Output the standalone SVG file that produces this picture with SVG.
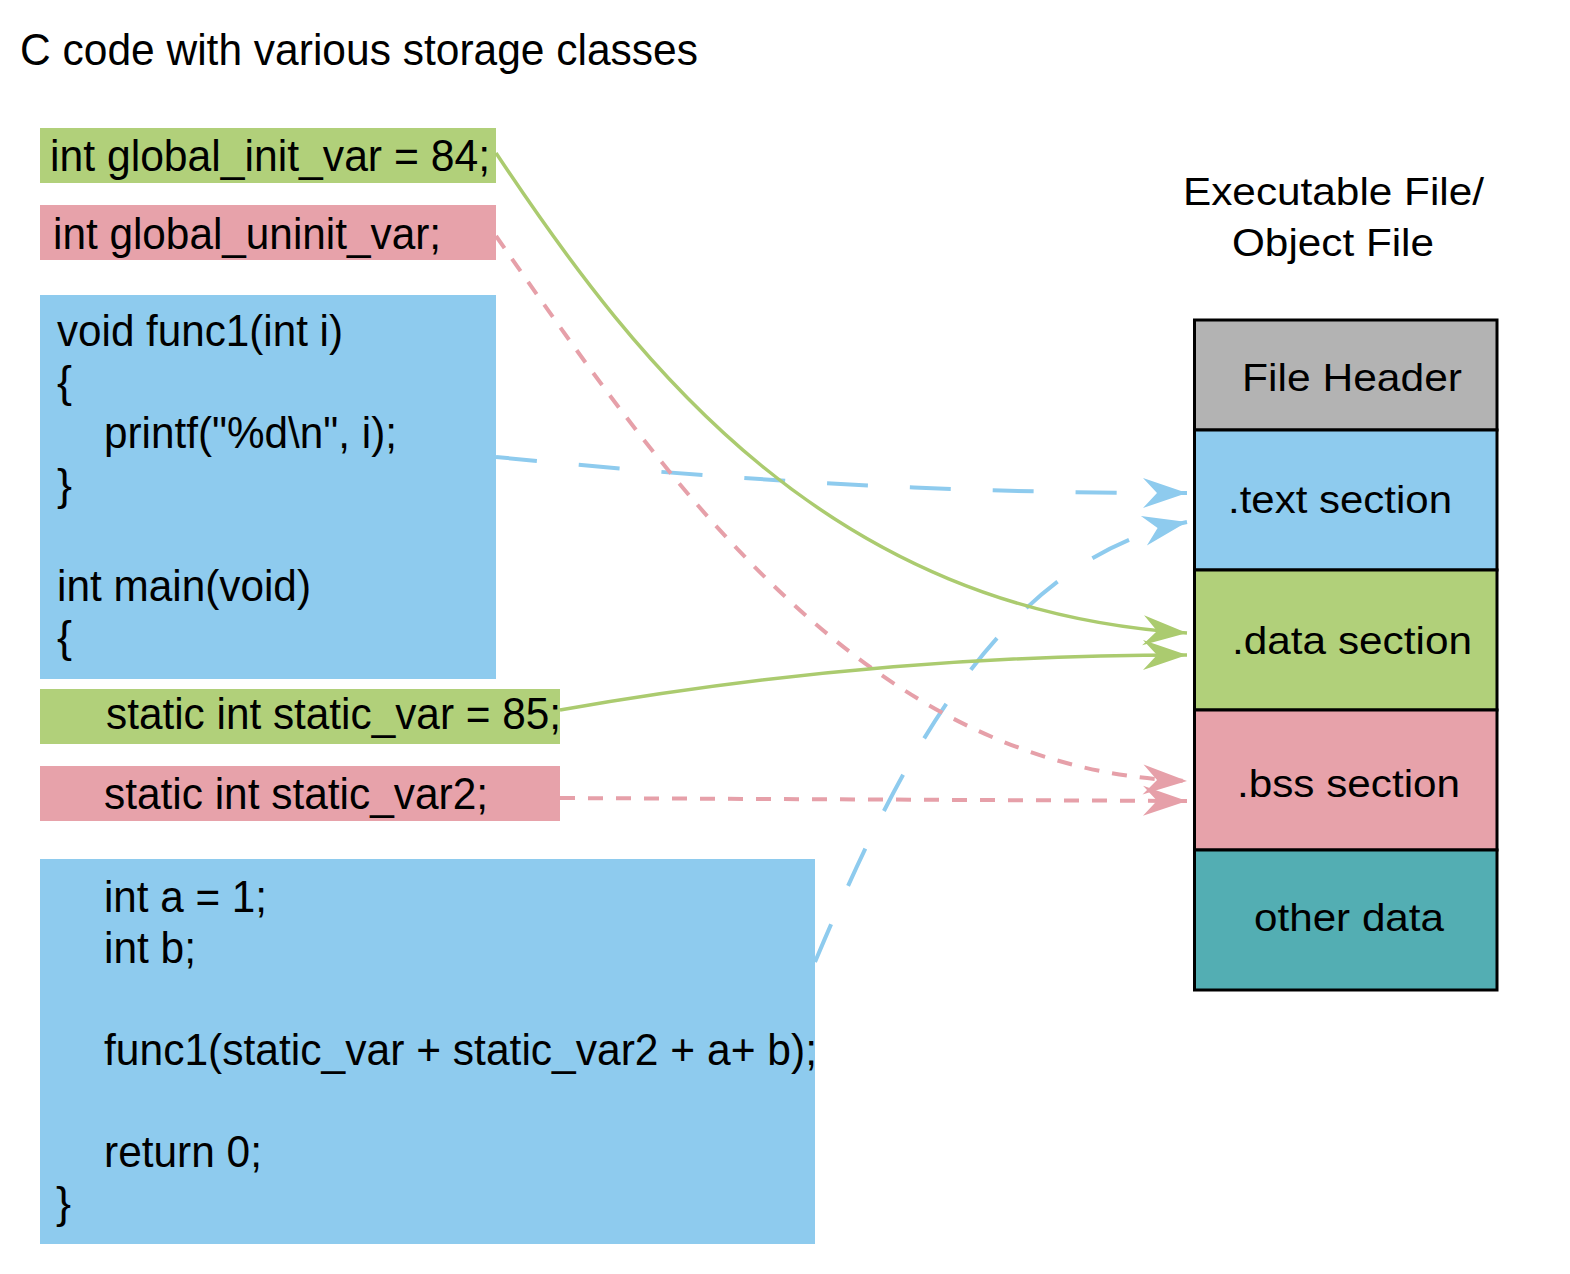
<svg xmlns="http://www.w3.org/2000/svg" width="1570" height="1274" viewBox="0 0 1570 1274">
<style>
.t{font-family:"Liberation Sans",Arial,sans-serif;fill:#000}
.title{font-size:44px}
.code{font-size:45px}
.sec{font-size:39px}
.green{fill:#b1d07a}
.pink{fill:#e7a2aa}
.blue{fill:#8ecbee}
.cell{stroke:#000;stroke-width:3}
.c{fill:none;stroke-width:3.5}
.cg{stroke:#abcb6f}
.cp{stroke:#e6a0a9;stroke-dasharray:15 13;stroke-width:4}
.cb{stroke:#8ecbee;stroke-dasharray:41 42;stroke-width:4}
</style>
<defs>
<marker id="ag" viewBox="-48 -18 50 36" refX="0" refY="0" markerWidth="50" markerHeight="36" markerUnits="userSpaceOnUse" orient="auto"><path d="M0,0 L-44,-15 L-30,0 L-44,15 Z" fill="#abcb6f"/></marker>
<marker id="ap" viewBox="-48 -18 50 36" refX="0" refY="0" markerWidth="50" markerHeight="36" markerUnits="userSpaceOnUse" orient="auto"><path d="M0,0 L-44,-15 L-30,0 L-44,15 Z" fill="#e6a0a9"/></marker>
<marker id="ab" viewBox="-48 -18 50 36" refX="0" refY="0" markerWidth="50" markerHeight="36" markerUnits="userSpaceOnUse" orient="auto"><path d="M0,0 L-44,-15 L-30,0 L-44,15 Z" fill="#8ecbee"/></marker>
</defs>
<rect width="1570" height="1274" fill="#fff"/>
<text class="t title" x="20" y="65" textLength="678" lengthAdjust="spacingAndGlyphs">C code with various storage classes</text>

<g id="global_init">
<rect class="green" x="40" y="128" width="456" height="55"/>
<text class="t code" x="50" y="171" textLength="440" lengthAdjust="spacingAndGlyphs">int global_init_var = 84;</text>
</g>
<g id="global_uninit">
<rect class="pink" x="40" y="205" width="456" height="55"/>
<text class="t code" x="53" y="249" textLength="388" lengthAdjust="spacingAndGlyphs">int global_uninit_var;</text>
</g>
<g id="func1">
<rect class="blue" x="40" y="295" width="456" height="384"/>
<text class="t code" x="57" y="346" textLength="286" lengthAdjust="spacingAndGlyphs">void func1(int i)</text>
<text class="t code" x="57" y="397">{</text>
<text class="t code" x="104" y="448" textLength="293" lengthAdjust="spacingAndGlyphs">printf("%d\n", i);</text>
<text class="t code" x="57" y="500">}</text>
<text class="t code" x="57" y="601" textLength="254" lengthAdjust="spacingAndGlyphs">int main(void)</text>
<text class="t code" x="57" y="652">{</text>
</g>
<g id="static_var">
<rect class="green" x="40" y="689" width="520" height="55"/>
<text class="t code" x="106" y="729" textLength="455" lengthAdjust="spacingAndGlyphs">static int static_var = 85;</text>
</g>
<g id="static_var2">
<rect class="pink" x="40" y="766" width="520" height="55"/>
<text class="t code" x="104" y="809" textLength="384" lengthAdjust="spacingAndGlyphs">static int static_var2;</text>
</g>
<g id="main_body">
<rect class="blue" x="40" y="859" width="775" height="385"/>
<text class="t code" x="104" y="912" textLength="163" lengthAdjust="spacingAndGlyphs">int a = 1;</text>
<text class="t code" x="104" y="963" textLength="92" lengthAdjust="spacingAndGlyphs">int b;</text>
<text class="t code" x="104" y="1065" textLength="713" lengthAdjust="spacingAndGlyphs">func1(static_var + static_var2 + a+ b);</text>
<text class="t code" x="104" y="1167" textLength="158" lengthAdjust="spacingAndGlyphs">return 0;</text>
<text class="t code" x="56" y="1218">}</text>
</g>

<g id="exe_title">
<text class="t sec" x="1183" y="205" textLength="301" lengthAdjust="spacingAndGlyphs">Executable File/</text>
<text class="t sec" x="1232" y="256" textLength="202" lengthAdjust="spacingAndGlyphs">Object File</text>
</g>
<g id="file_header">
<rect class="cell" x="1194.5" y="320" width="302.5" height="110" fill="#b3b3b3"/>
<text class="t sec" x="1242" y="391" textLength="220" lengthAdjust="spacingAndGlyphs">File Header</text>
</g>
<g id="text_section">
<rect class="cell" x="1194.5" y="430" width="302.5" height="140" fill="#8ecbee"/>
<text class="t sec" x="1228" y="513" textLength="224" lengthAdjust="spacingAndGlyphs">.text section</text>
</g>
<g id="data_section">
<rect class="cell" x="1194.5" y="570" width="302.5" height="140" fill="#b1d07a"/>
<text class="t sec" x="1232" y="654" textLength="240" lengthAdjust="spacingAndGlyphs">.data section</text>
</g>
<g id="bss_section">
<rect class="cell" x="1194.5" y="710" width="302.5" height="140" fill="#e7a2aa"/>
<text class="t sec" x="1237" y="797" textLength="223" lengthAdjust="spacingAndGlyphs">.bss section</text>
</g>
<g id="other_data">
<rect class="cell" x="1194.5" y="850" width="302.5" height="140" fill="#53aeb3"/>
<text class="t sec" x="1254" y="931" textLength="190" lengthAdjust="spacingAndGlyphs">other data</text>
</g>

<g id="connectors">
<path class="c cb" d="M496,457 C750,482 950,493 1187,493" marker-end="url(#ab)"/>
<path class="c cb" d="M815,962 C900,760 1000,560 1187,522" marker-end="url(#ab)"/>
<path class="c cp" d="M496,236 C660,470 860,770 1187,781" marker-end="url(#ap)"/>
<path class="c cp" d="M560,798 L1187,801" marker-end="url(#ap)"/>
<path class="c cg" d="M496,153 C640,370 830,610 1187,633" marker-end="url(#ag)"/>
<path class="c cg" d="M560,710 C800,668 1000,655 1187,655" marker-end="url(#ag)"/>
</g>
</svg>
